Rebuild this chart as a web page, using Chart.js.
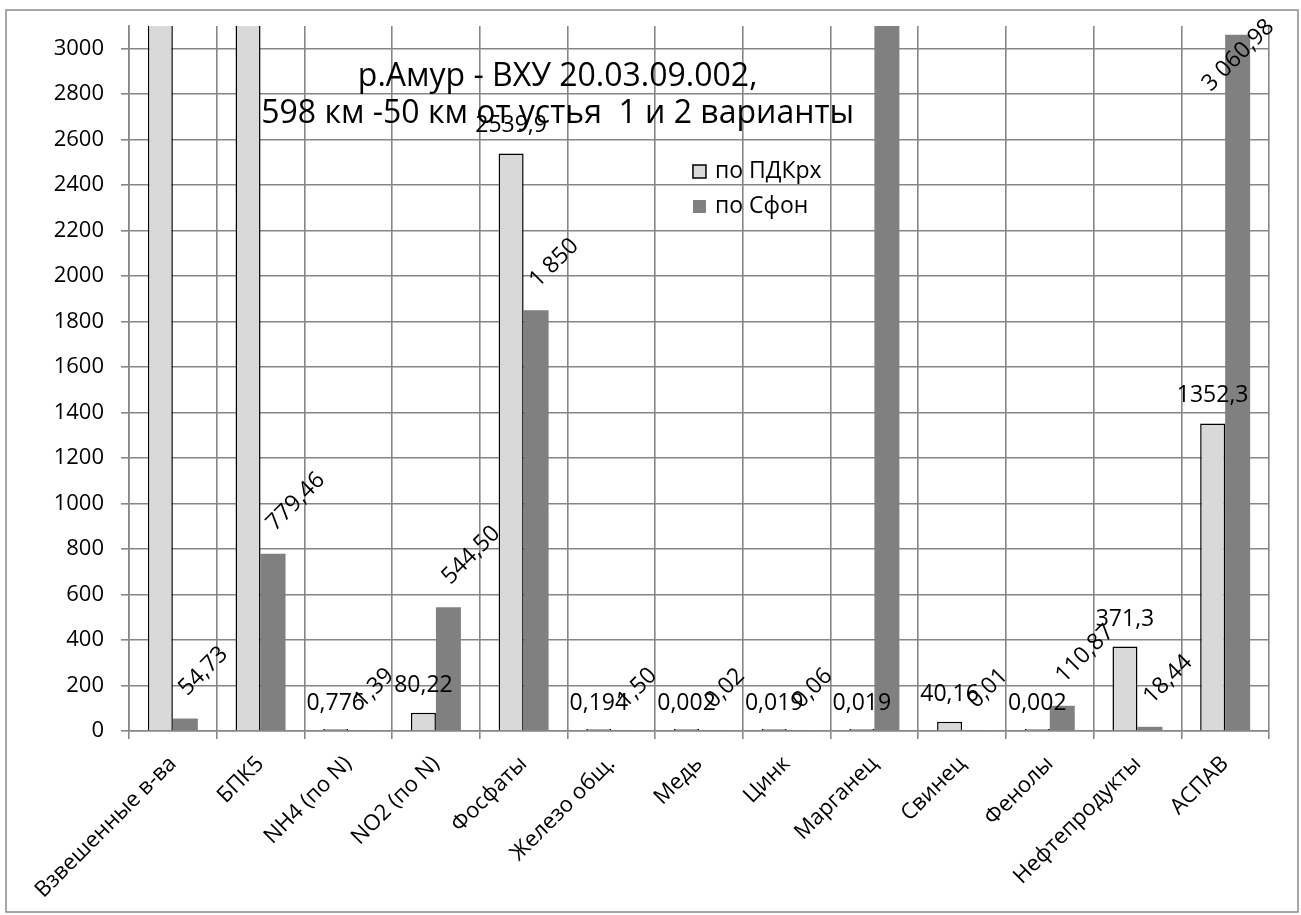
<!DOCTYPE html>
<html>
<head>
<meta charset="utf-8">
<script src="https://cdn.jsdelivr.net/npm/chart.js@4"></script>
<style>
  html, body { margin: 0; padding: 0; background: #fff; overflow: hidden; }
  #wrap { position: relative; width: 1301px; height: 915px; }
</style>
</head>
<body>
<div id="wrap"><canvas id="chart"></canvas></div>
<script>
const categories = ["Взвешенные в-ва", "БПК5", "NH4 (по N)", "NO2 (по N)", "Фосфаты", "Железо общ.",
    "Медь", "Цинк", "Марганец", "Свинец", "Фенолы", "Нефтепродукты", "АСПАВ"];
// первые две и "Марганец" (по Сфон) уходят за верх шкалы
const pdkValues = [5200, 4300, 0.776, 80.22, 2539.9, 0.194, 0.002, 0.019, 0.019, 40.16, 0.002, 371.3, 1352.3];
const fonValues = [54.73, 779.46, 1.39, 544.50, 1850, 1.50, 0.02, 0.06, 6100, 0.01, 110.87, 18.44, 3060.98];
const seriesNames = ["по ПДКрх", "по Сфон"];
const titleLines = ["р.Амур - ВХУ 20.03.09.002,", "598 км -50 км от устья  1 и 2 варианты"];
const yMin = 0, yMax = 3100, yStep = 200, yLastTick = 3000;

const FONT = "'Open Sans', 'Noto Sans', sans-serif";

function fmtPdk(v) {
    return String(v).replace(".", ",");
}
function fmtFon(v) {
    let s = Number.isInteger(v) ? v.toFixed(0) : v.toFixed(2);
    let parts = s.split(".");
    parts[0] = parts[0].replace(/\B(?=(\d{3})+(?!\d))/g, " ");
    return parts.join(",");
}

const frame = {
    id: "frame",
    beforeDraw(chart) {
        const c = chart.ctx;
        c.save();
        c.fillStyle = "#fff";
        c.fillRect(0, 0, chart.width, chart.height);
        c.strokeStyle = "#8a8a8a";
        c.lineWidth = 1.5;
        c.strokeRect(6, 10, chart.width - 9, chart.height - 13);
        c.restore();
    }
};

const valueLabels = {
    id: "valueLabels",
    afterDatasetsDraw(chart) {
        const c = chart.ctx;
        const area = chart.chartArea;
        const max = chart.scales.y.max;
        c.save();
        c.fillStyle = "#000";
        c.font = "23px " + FONT;
        chart.data.datasets.forEach((ds, i) => {
            chart.getDatasetMeta(i).data.forEach((bar, j) => {
                const v = ds.data[j];
                if (v > max) return;
                const top = chart.scales.y.getPixelForValue(v);
                if (i === 0) {
                    c.textAlign = "center";
                    c.textBaseline = "alphabetic";
                    c.fillText(fmtPdk(v), bar.x, top - 21);
                } else {
                    const txt = fmtFon(v);
                    const d = c.measureText(txt).width * Math.SQRT1_2;
                    let sx = bar.x + 2;
                    let sy = top - 22;
                    sx = Math.min(sx, area.right + 6 - d);
                    sy = Math.max(sy, area.top + 2 + d);
                    c.save();
                    c.translate(sx, sy);
                    c.rotate(-Math.PI / 4);
                    c.textAlign = "left";
                    c.textBaseline = "alphabetic";
                    c.fillText(txt, 0, 0);
                    c.restore();
                }
            });
        });
        c.restore();
    }
};

const innerTitleLegend = {
    id: "innerTitleLegend",
    afterDraw(chart) {
        const c = chart.ctx;
        const a = chart.chartArea;
        c.save();
        c.fillStyle = "#000";
        c.textAlign = "center";
        c.textBaseline = "alphabetic";
        c.font = "32px " + FONT;
        const tx = a.left + (a.right - a.left) * 0.376;
        c.fillText(titleLines[0], tx, a.top + 60);
        c.fillText(titleLines[1], tx, a.top + 97);

        const lx = a.left + (a.right - a.left) * 0.4947;
        const rows = [a.top + 139, a.top + 174];
        c.font = "23px " + FONT;
        c.textAlign = "left";
        chart.data.datasets.forEach((ds, i) => {
            const by = rows[i];
            c.fillStyle = ds.backgroundColor;
            c.fillRect(lx, by, 13, 13);
            if (ds.borderWidth) {
                c.strokeStyle = ds.borderColor;
                c.lineWidth = 1.5;
                c.strokeRect(lx, by, 13, 13);
            }
            c.fillStyle = "#000";
            c.fillText(ds.label, lx + 22, by + 13);
        });
        c.restore();
    }
};

const ctx = document.getElementById("chart");

const config = {
    type: "bar",
    data: {
        labels: categories,
        datasets: [{
            label: seriesNames[0],
            data: pdkValues,
            backgroundColor: "#d9d9d9",
            borderColor: "#000",
            borderWidth: 1.5,
            minBarLength: 2,
        }, {
            label: seriesNames[1],
            data: fonValues,
            backgroundColor: "#808080",
            borderWidth: 0,
        }]
    },
    options: {
        responsive: true,
        maintainAspectRatio: false,
        animation: false,
        categoryPercentage: 0.57,
        barPercentage: 1.0,
        layout: { padding: { left: 0, top: 26, right: 32, bottom: 0 } },
        plugins: {
            legend: { display: false },
            title: { display: false },
            tooltip: { enabled: false }
        },
        scales: {
            x: {
                grid: { color: "#868686", lineWidth: 1.6, tickLength: 8 },
                border: { color: "#868686", width: 1.6 },
                ticks: {
                    color: "#000",
                    font: { family: FONT, size: 22 },
                    minRotation: 45,
                    maxRotation: 45,
                    autoSkip: false,
                    padding: 12
                },
                afterFit(scale) {
                    scale.height = 184;
                    scale.paddingLeft = 0;
                    scale.paddingRight = 0;
                }
            },
            y: {
                min: yMin,
                max: yMax,
                grid: { color: "#868686", lineWidth: 1.6, tickLength: 8 },
                border: { color: "#868686", width: 1.6 },
                ticks: {
                    color: "#000",
                    font: { family: FONT, size: 22 },
                    padding: 17,
                    callback: v => String(v)
                },
                afterBuildTicks(scale) {
                    const t = [];
                    for (let v = yMin; v <= yLastTick; v += yStep) t.push({ value: v });
                    scale.ticks = t;
                },
                afterFit(scale) {
                    scale.width = 129;
                    scale.paddingTop = 0;
                    scale.paddingBottom = 0;
                }
            }
        }
    },
    plugins: [frame, valueLabels, innerTitleLegend]
};
const chartBar = new Chart(ctx, config);
</script>
</body>
</html>
